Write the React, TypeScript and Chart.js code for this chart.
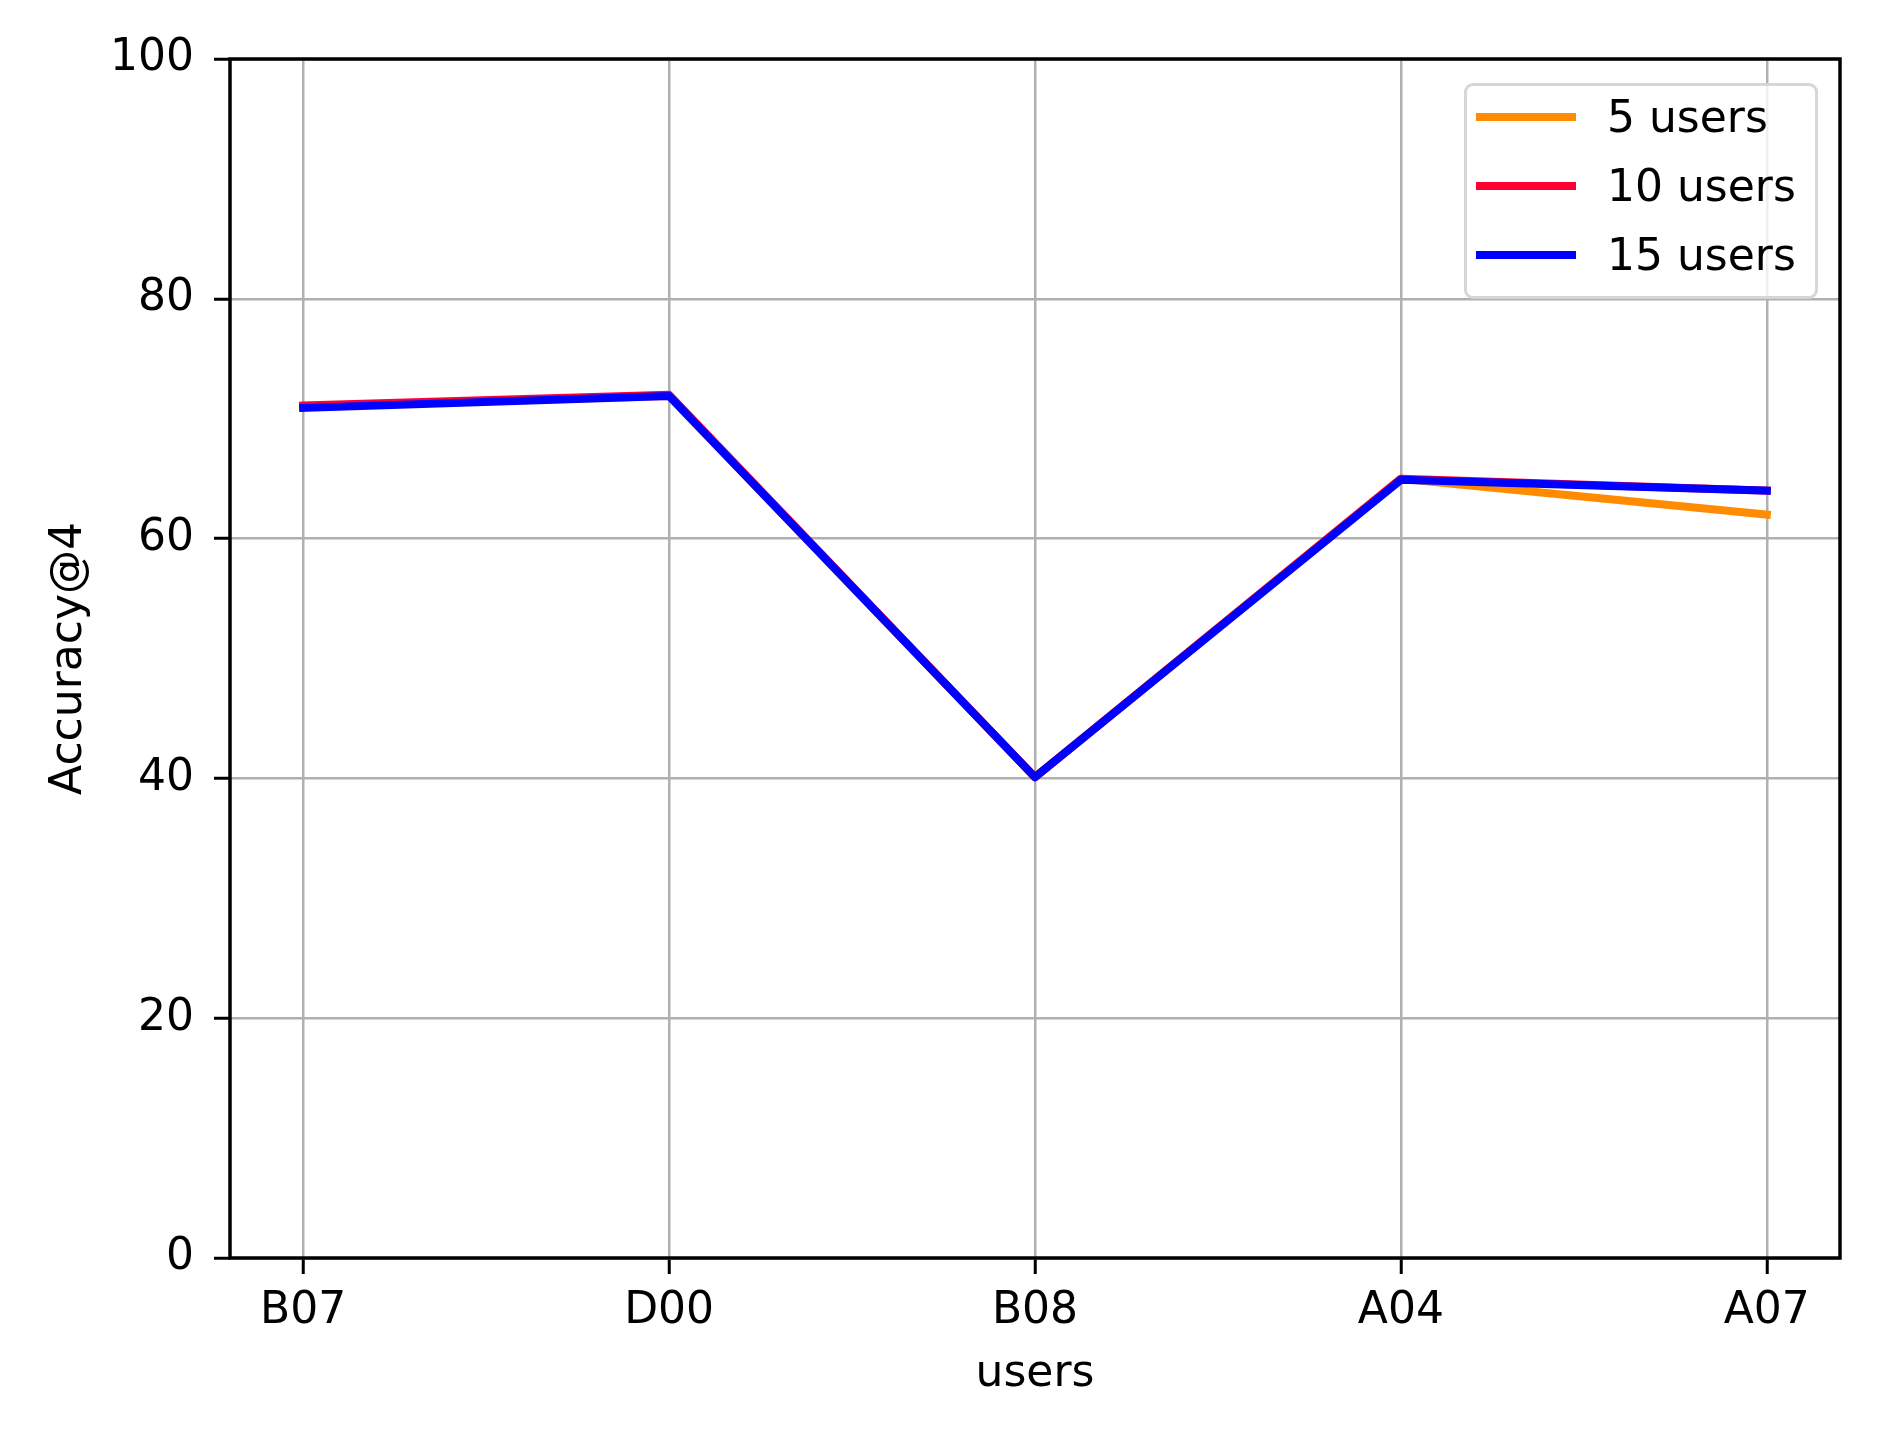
import { useRef, useEffect } from 'react';
import { Chart, registerables } from 'chart.js';

Chart.register(...registerables);

// categories along the x axis
const users = ['B07', 'D00', 'B08', 'A04', 'A07'];

// Accuracy@4 per user for each group size
const acc5 = [71.0, 71.9, 40.1, 65.0, 62.0];
const acc10 = [71.1, 72.0, 40.1, 65.0, 64.0];
const acc15 = [70.9, 71.9, 40.1, 64.9, 64.0];

const seriesNames = ['5 users', '10 users', '15 users'];
const seriesColors = ['#ff8c00', '#ff0033', '#0000ff'];

const yTicks = [0, 20, 40, 60, 80, 100];

const FONT = "'DejaVu Sans', 'Liberation Sans', sans-serif";
const W = 1895;
const H = 1442;

// draws the full box around the plot area, like matplotlib's spines
const framePlugin = {
  id: 'frame',
  afterDraw(chart: Chart) {
    const { ctx, chartArea } = chart;
    ctx.save();
    ctx.strokeStyle = '#000';
    ctx.lineWidth = 3.5;
    ctx.strokeRect(chartArea.left, chartArea.top, chartArea.right - chartArea.left, chartArea.bottom - chartArea.top);
    ctx.restore();
  },
};

export default function App() {
  const chartRef = useRef<HTMLCanvasElement>(null);
  const chartInstanceRef = useRef<Chart | null>(null);

  useEffect(() => {
    if (!chartRef.current) return;
    if (chartInstanceRef.current) chartInstanceRef.current.destroy();

    const ctx = chartRef.current.getContext('2d');
    if (!ctx) return;

    const series = [acc5, acc10, acc15];

    chartInstanceRef.current = new Chart(ctx, {
      type: 'line',
      data: {
        datasets: series.map((vals, i) => ({
          label: seriesNames[i],
          data: vals.map((v, j) => ({ x: j, y: v })),
          borderColor: seriesColors[i],
          backgroundColor: seriesColors[i],
          borderWidth: 8,
          pointRadius: 0,
          tension: 0,
          borderJoinStyle: 'round' as const,
          borderCapStyle: 'square' as const,
          order: series.length - i,
        })),
      },
      options: {
        responsive: false,
        animation: false,
        devicePixelRatio: 1,
        layout: {
          padding: { left: 0, top: 59, right: 55, bottom: 34 },
        },
        plugins: {
          legend: { display: false },
          tooltip: { enabled: false },
        },
        scales: {
          x: {
            type: 'linear',
            min: -0.2,
            max: 4.2,
            afterBuildTicks: (scale: any) => {
              scale.ticks = users.map((_, i) => ({ value: i }));
            },
            afterFit: (scale: any) => {
              scale.height = 150;
            },
            grid: {
              color: '#b0b0b0',
              lineWidth: 2.5,
              tickColor: '#000',
              tickLength: 16,
              tickWidth: 3,
            },
            border: { display: false },
            ticks: {
              color: '#000',
              padding: 11,
              maxRotation: 0,
              font: { family: FONT, size: 44 },
              callback: (value: any) => users[Number(value)] ?? '',
            },
            title: {
              display: true,
              text: 'users',
              color: '#000',
              font: { family: FONT, size: 44 },
              padding: { top: 0, bottom: 7 },
            },
          },
          y: {
            type: 'linear',
            min: 0,
            max: 100,
            afterBuildTicks: (scale: any) => {
              scale.ticks = yTicks.map(v => ({ value: v }));
            },
            afterFit: (scale: any) => {
              scale.width = 230;
            },
            grid: {
              color: '#b0b0b0',
              lineWidth: 2.5,
              tickColor: '#000',
              tickLength: 16,
              tickWidth: 3,
            },
            border: { display: false },
            ticks: {
              color: '#000',
              padding: 20,
              font: { family: FONT, size: 44 },
            },
            title: {
              display: true,
              text: 'Accuracy@4',
              color: '#000',
              font: { family: FONT, size: 44 },
              padding: { top: 43, bottom: 0 },
            },
          },
        },
      },
      plugins: [framePlugin],
    });

    return () => {
      if (chartInstanceRef.current) {
        chartInstanceRef.current.destroy();
        chartInstanceRef.current = null;
      }
    };
  }, []);

  return (
    <div style={{ position: 'fixed', left: 0, top: 0, width: W, height: H, background: '#fff', fontFamily: FONT }}>
      <canvas ref={chartRef} width={W} height={H} style={{ width: W, height: H, display: 'block' }}></canvas>

      {/* legend box, top right inside the plot */}
      <div
        style={{
          position: 'absolute',
          left: 1464,
          top: 83,
          width: 348,
          height: 210,
          border: '3px solid rgba(204, 204, 204, 0.8)',
          borderRadius: 9,
          background: 'rgba(255, 255, 255, 0.8)',
        }}
      >
        {seriesNames.map((name, i) => (
          <div
            key={name}
            style={{
              position: 'absolute',
              left: 0,
              top: 31 + i * 69 - 30,
              height: 60,
              display: 'flex',
              alignItems: 'center',
            }}
          >
            <span style={{ display: 'inline-block', marginLeft: 9, width: 100, height: 8, background: seriesColors[i] }}></span>
            <span style={{ marginLeft: 31, fontSize: 44, color: '#000', lineHeight: '60px', whiteSpace: 'nowrap' }}>{name}</span>
          </div>
        ))}
      </div>
    </div>
  );
}
